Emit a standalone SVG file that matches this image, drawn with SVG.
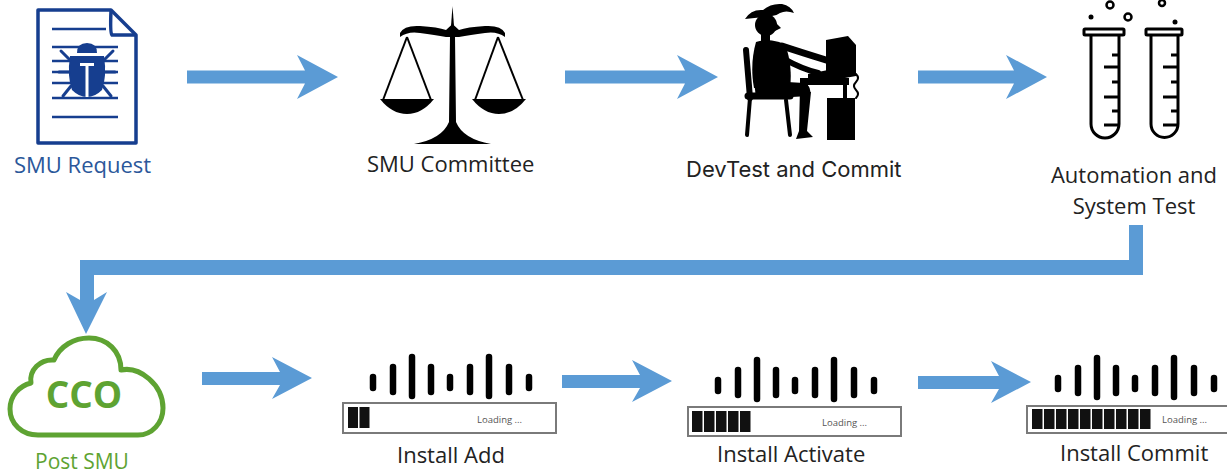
<svg xmlns="http://www.w3.org/2000/svg" width="1227" height="476" viewBox="0 0 1227 476">
  <style>
    .lbl { font-family: "Open Sans", "Liberation Sans", sans-serif; font-size: 22px; fill: #222; }
    .dev { font-family: "Inter", "Roboto", "Liberation Sans", sans-serif; font-size: 22px; fill: #222; }
    .arrow { fill: #5B9BD5; }
    .ink { fill: #000; }
    .tube { fill: none; stroke: #000; stroke-width: 3; stroke-linejoin: round; }
    .tick { stroke: #000; stroke-width: 3; }
    .bar { stroke: #000; stroke-width: 6.5; stroke-linecap: round; }
    .frame { fill: #fff; stroke: #7a7a7a; stroke-width: 2; }
    .blk { fill: #111; }
    .loading { font-family: "Open Sans", "Liberation Sans", sans-serif; font-size: 9.5px; fill: #555; }
    .doc { fill: none; stroke: #163E8F; stroke-width: 3.5; stroke-linejoin: round; }
    .docline { stroke: #163E8F; stroke-width: 2.5; }
    .green { fill: #5EA332; }
  </style>
  <defs>
    <!-- Cisco-style bar logo, origin at first bar centre -->
    <g id="bars">
      <line class="bar" x1="0" y1="377" x2="0" y2="388"/>
      <line class="bar" x1="20" y1="367" x2="20" y2="392"/>
      <line class="bar" x1="39" y1="357" x2="39" y2="396"/>
      <line class="bar" x1="58" y1="367" x2="58" y2="392"/>
      <line class="bar" x1="77" y1="377" x2="77" y2="388"/>
      <line class="bar" x1="97" y1="367" x2="97" y2="392"/>
      <line class="bar" x1="116" y1="357" x2="116" y2="396"/>
      <line class="bar" x1="136" y1="367" x2="136" y2="392"/>
      <line class="bar" x1="156" y1="377" x2="156" y2="388"/>
    </g>
  </defs>
  <rect width="1227" height="476" fill="#fff"/>

  <!-- connectors -->
  <g id="connectors">
    <polygon class="arrow" points="187,70.5 305,70.5 297,55 338,77 297,99 305,83.5 187,83.5"/>
    <polygon class="arrow" points="565,70.5 685,70.5 677,55 718,77 677,99 685,83.5 565,83.5"/>
    <polygon class="arrow" points="918,70.5 1014,70.5 1006,55 1047,77 1006,99 1014,83.5 918,83.5"/>
    <polygon class="arrow" points="1129,225 1143,225 1143,275 94,275 94,300 107,292 86,334 66,292 80,300 80,260 1129,260"/>
    <polygon class="arrow" points="202,372 280,372 272,357 312,378 272,399 280,385 202,385"/>
    <polygon class="arrow" points="562,375 640,375 632,360 672,381 632,402 640,388 562,388"/>
    <polygon class="arrow" points="918,376 999,376 991,361 1031,382 991,403 999,389 918,389"/>
  </g>

  <!-- SMU request: document with bug -->
  <g id="smu-request">
    <path class="doc" d="M38 10 L111 10 L136 35 L136 143 L38 143 Z"/>
    <path class="doc" d="M111 11 Q110 33 112 35 L135 35"/>
    <line class="docline" x1="52" y1="29" x2="106" y2="29"/>
    <line class="docline" x1="52" y1="47" x2="118" y2="47"/>
    <line class="docline" x1="52" y1="61" x2="118" y2="61"/>
    <line class="docline" x1="52" y1="72" x2="118" y2="72"/>
    <line class="docline" x1="52" y1="83" x2="118" y2="83"/>
    <line class="docline" x1="52" y1="98" x2="118" y2="98"/>
    <line class="docline" x1="52" y1="117" x2="118" y2="117"/>
    <g fill="#163E8F" stroke="#163E8F" stroke-width="3" stroke-linecap="round">
      <path d="M77 53 Q77 43 87 43 Q97 43 97 53 Z" stroke="none"/>
      <path d="M70 56 L104 56 Q107 76 102 90 Q95 97 87 97 Q79 97 72 90 Q67 76 70 56 Z" stroke="none"/>
      <line x1="70" y1="60" x2="61" y2="51"/>
      <line x1="69" y1="72" x2="59" y2="72"/>
      <line x1="71" y1="86" x2="63" y2="96"/>
      <line x1="104" y1="60" x2="113" y2="51"/>
      <line x1="105" y1="72" x2="115" y2="72"/>
      <line x1="103" y1="86" x2="111" y2="96"/>
    </g>
    <rect x="85.5" y="65" width="3" height="32" fill="#fff"/>
    <rect x="80" y="63" width="14" height="3" fill="#fff"/>
    <text x="14" y="173" font-family="Open Sans, Liberation Sans, sans-serif" font-size="22" fill="#2B579A">SMU Request</text>
  </g>

  <!-- SMU committee: scales -->
  <g id="smu-committee">
    <path class="ink" d="M452.5 6 L454 26 L451 26 Z"/>
    <path class="ink" d="M400 33 Q404 25 420 26 Q438 27 446 30 L452.5 24 L459 30 Q467 27 485 26 Q501 25 505 33 L505 37 Q497 31 485 33 Q470 35 459 37 L446 37 Q435 35 420 33 Q408 31 400 37 Z"/>
    <path class="ink" d="M414 144 Q442 139 449 122 L450 36 L455 36 L456 122 Q463 139 491 144 Z"/>
    <g stroke="#000" stroke-width="2" fill="none">
      <line x1="407" y1="37" x2="383" y2="100"/>
      <line x1="407" y1="37" x2="431" y2="100"/>
      <line x1="498" y1="37" x2="475" y2="100"/>
      <line x1="498" y1="37" x2="523" y2="100"/>
    </g>
    <path class="ink" d="M380 99 L434 99 Q422 114 407 114 Q392 114 380 99 Z"/>
    <path class="ink" d="M472 99 L526 99 Q514 114 499 114 Q484 114 472 99 Z"/>
    <text class="lbl" x="367" y="172">SMU Committee</text>
  </g>

  <!-- DevTest and commit: person at a computer -->
  <g id="devtest-commit">
    <g class="ink">
      <circle cx="766" cy="25" r="11"/>
      <path d="M745 19 Q751 9 763 10 Q771 3 782 4 Q791 6 794 13 Q786 10 780 13 Q776 16 772 16 Z"/>
      <path d="M775 22 L781 28 L775 31 Z"/>
      <rect x="761" y="32" width="9" height="10"/>
      <path d="M756 42 C752 56 751 72 754 88 L790 88 C792 74 790 56 785 45 C778 40 764 39 756 42 Z"/>
      <path d="M754 80 L804 83 Q813 87 809 96 L756 99 Z"/>
      <path d="M800 87 L811 92 L807 131 L813 137 L796 139 L799 131 Z"/>
      <path d="M826 40 L848 36 L856 45 L856 76 L834 80 L826 78 Z"/>
      <path d="M808 74 L828 70 L830 78 L808 80 Z"/>
      <rect x="800" y="78" width="49" height="7"/>
      <rect x="827" y="98" width="28" height="42"/>
    </g>
    <g stroke="#000" fill="none" stroke-linecap="round">
      <path d="M782 46 Q800 52 826 60" stroke-width="7"/>
      <path d="M786 60 Q800 68 818 73" stroke-width="6"/>
      <line x1="746" y1="50" x2="750" y2="98" stroke-width="6"/>
      <line x1="748" y1="96" x2="790" y2="96" stroke-width="7"/>
      <line x1="750" y1="98" x2="747" y2="135" stroke-width="4"/>
      <line x1="786" y1="100" x2="790" y2="135" stroke-width="4"/>
      <line x1="806" y1="85" x2="806" y2="120" stroke-width="4"/>
      <line x1="845" y1="85" x2="845" y2="98" stroke-width="4"/>
      <path d="M856 74 q4 4 0 8 q-4 4 0 8 q4 4 0 8" stroke-width="2"/>
    </g>
    <text class="dev" x="686" y="177">DevTest and Commit</text>
  </g>

  <!-- Automation and system test: test tubes -->
  <g id="automation-test">
    <rect class="tube" x="1084" y="29" width="40" height="6" rx="1"/>
    <path class="tube" d="M1091 35 L1091 124 A14 14 0 0 0 1119 124 L1119 35"/>
    <rect class="tube" x="1146" y="29" width="36" height="6" rx="1"/>
    <path class="tube" d="M1151 35 L1151 124 A13.5 13.5 0 0 0 1178 124 L1178 35"/>
    <g class="tick">
      <line x1="1112" y1="55" x2="1119" y2="55"/>
      <line x1="1104" y1="67" x2="1119" y2="67"/>
      <line x1="1112" y1="82" x2="1119" y2="82"/>
      <line x1="1104" y1="97" x2="1119" y2="97"/>
      <line x1="1112" y1="111" x2="1119" y2="111"/>
      <line x1="1104" y1="125" x2="1119" y2="125"/>
      <line x1="1171" y1="55" x2="1178" y2="55"/>
      <line x1="1163" y1="67" x2="1178" y2="67"/>
      <line x1="1171" y1="82" x2="1178" y2="82"/>
      <line x1="1163" y1="97" x2="1178" y2="97"/>
      <line x1="1171" y1="111" x2="1178" y2="111"/>
      <line x1="1163" y1="125" x2="1178" y2="125"/>
    </g>
    <circle cx="1110" cy="5" r="3.5" fill="none" stroke="#000" stroke-width="2.5"/>
    <circle cx="1128" cy="17" r="3.5" fill="none" stroke="#000" stroke-width="2.5"/>
    <circle cx="1162" cy="3" r="3" fill="none" stroke="#000" stroke-width="2.5"/>
    <circle cx="1091" cy="17" r="2.5"/>
    <circle cx="1175" cy="22" r="2.5"/>
    <text class="lbl" x="1134" y="183" text-anchor="middle">Automation and</text>
    <text class="lbl" x="1134" y="214" text-anchor="middle">System Test</text>
  </g>

  <!-- Post SMU: CCO cloud -->
  <g id="post-smu">
    <path d="M38 435 C22 435 10 424 10 409 C10 396 19 386 31 383 C29 370 40 359 54 360 C60 346 74 338 89 338 C107 338 121 351 121 370 C140 366 163 385 163 408 C163 423 152 435 138 435 Z" fill="#fff" stroke="#5EA332" stroke-width="5" stroke-linejoin="round"/>
    <text x="84" y="408" text-anchor="middle" font-family="Open Sans, Liberation Sans, sans-serif" font-weight="700" font-size="37" class="green">CCO</text>
    <text x="35" y="469" font-family="Open Sans, Liberation Sans, sans-serif" font-size="21" class="green">Post SMU</text>
  </g>

  <!-- Install add -->
  <g id="install-add">
    <use href="#bars" x="373"/>
    <rect class="frame" x="343" y="403" width="213" height="30"/>
    <rect class="blk" x="348" y="407" width="10" height="21"/>
    <rect class="blk" x="359.5" y="407" width="10" height="21"/>
    <text class="loading" x="477" y="423">Loading ...</text>
    <text class="lbl" x="397" y="463">Install Add</text>
  </g>

  <!-- Install activate -->
  <g id="install-activate">
    <use href="#bars" x="718" y="3"/>
    <rect class="frame" x="688" y="407" width="213" height="29"/>
    <rect class="blk" x="692" y="411" width="10.5" height="21"/>
    <rect class="blk" x="704" y="411" width="10.5" height="21"/>
    <rect class="blk" x="716" y="411" width="10.5" height="21"/>
    <rect class="blk" x="728" y="411" width="10.5" height="21"/>
    <rect class="blk" x="740" y="411" width="10.5" height="21"/>
    <text class="loading" x="822" y="426">Loading ...</text>
    <text class="lbl" x="717" y="462">Install Activate</text>
  </g>

  <!-- Install commit -->
  <g id="install-commit">
    <use href="#bars" x="1058" y="1"/>
    <rect class="frame" x="1027" y="406" width="213" height="27"/>
    <rect class="blk" x="1032" y="409" width="10.5" height="20"/>
    <rect class="blk" x="1044" y="409" width="10.5" height="20"/>
    <rect class="blk" x="1056" y="409" width="10.5" height="20"/>
    <rect class="blk" x="1068" y="409" width="10.5" height="20"/>
    <rect class="blk" x="1080" y="409" width="10.5" height="20"/>
    <rect class="blk" x="1092" y="409" width="10.5" height="20"/>
    <rect class="blk" x="1104" y="409" width="10.5" height="20"/>
    <rect class="blk" x="1116" y="409" width="10.5" height="20"/>
    <rect class="blk" x="1128" y="409" width="10.5" height="20"/>
    <rect class="blk" x="1140" y="409" width="10.5" height="20"/>
    <text class="loading" x="1162" y="423">Loading ...</text>
    <text class="lbl" x="1060" y="461">Install Commit</text>
  </g>
</svg>
